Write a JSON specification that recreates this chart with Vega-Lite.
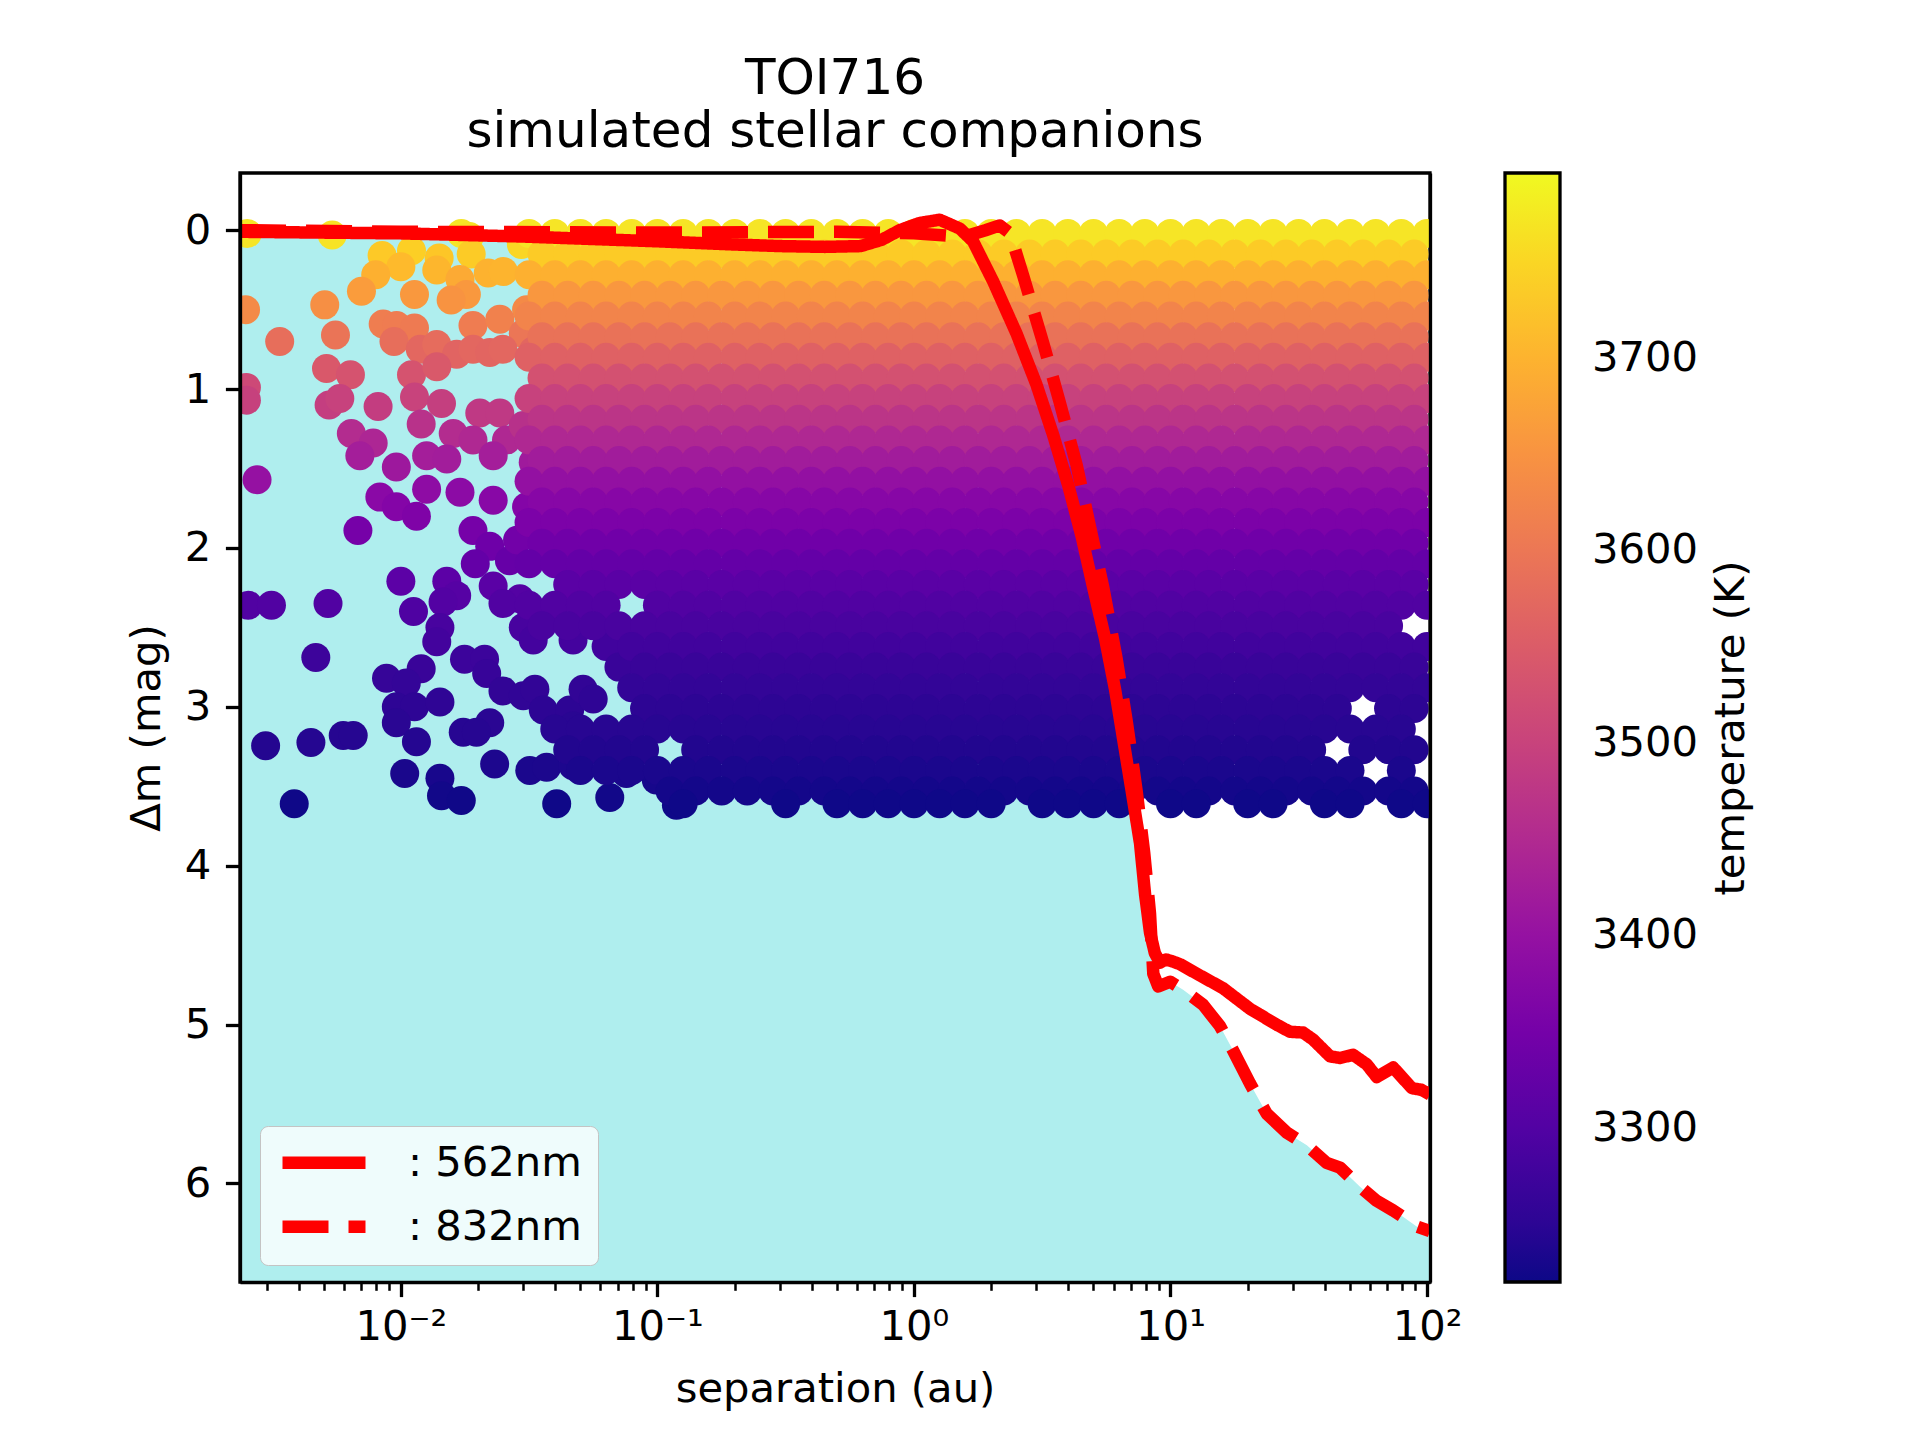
{
  "$schema": "https://vega.github.io/schema/vega-lite/v6.json",
  "width": 1190,
  "height": 1109,
  "autosize": {"type": "none"},
  "padding": {"left": 240, "top": 173, "right": 490, "bottom": 158},
  "background": "white",
  "title": {
    "text": ["TOI716", "simulated stellar companions"],
    "anchor": "middle",
    "frame": "group",
    "font": "DejaVu Sans",
    "fontSize": 50,
    "fontWeight": "normal",
    "color": "black",
    "lineHeight": 53,
    "offset": 16
  },
  "datasets": {
    "curves": [
      {"sep":0.00236,"dm":0.01,"band":": 562nm"},{"sep":0.01,"dm":0.02,"band":": 562nm"},{"sep":0.03,"dm":0.04,"band":": 562nm"},{"sep":0.1,"dm":0.07,"band":": 562nm"},{"sep":0.2,"dm":0.09,"band":": 562nm"},{"sep":0.3,"dm":0.1,"band":": 562nm"},{"sep":0.45,"dm":0.105,"band":": 562nm"},{"sep":0.62,"dm":0.1,"band":": 562nm"},{"sep":0.75,"dm":0.06,"band":": 562nm"},{"sep":0.88,"dm":0.0,"band":": 562nm"},{"sep":1.05,"dm":-0.045,"band":": 562nm"},{"sep":1.26,"dm":-0.066,"band":": 562nm"},{"sep":1.51,"dm":-0.01,"band":": 562nm"},{"sep":1.7,"dm":0.07,"band":": 562nm"},{"sep":2.04,"dm":0.325,"band":": 562nm"},{"sep":2.51,"dm":0.65,"band":": 562nm"},{"sep":3.0,"dm":0.97,"band":": 562nm"},{"sep":3.49,"dm":1.29,"band":": 562nm"},{"sep":4.0,"dm":1.61,"band":": 562nm"},{"sep":4.51,"dm":1.93,"band":": 562nm"},{"sep":5.0,"dm":2.25,"band":": 562nm"},{"sep":5.56,"dm":2.57,"band":": 562nm"},{"sep":6.08,"dm":2.89,"band":": 562nm"},{"sep":6.55,"dm":3.21,"band":": 562nm"},{"sep":7.06,"dm":3.53,"band":": 562nm"},{"sep":7.61,"dm":3.86,"band":": 562nm"},{"sep":7.96,"dm":4.18,"band":": 562nm"},{"sep":8.32,"dm":4.42,"band":": 562nm"},{"sep":8.69,"dm":4.55,"band":": 562nm"},{"sep":9.1,"dm":4.61,"band":": 562nm"},{"sep":9.6,"dm":4.59,"band":": 562nm"},{"sep":10.1,"dm":4.6,"band":": 562nm"},{"sep":10.9,"dm":4.62,"band":": 562nm"},{"sep":13.0,"dm":4.69,"band":": 562nm"},{"sep":16.0,"dm":4.77,"band":": 562nm"},{"sep":20.4,"dm":4.9,"band":": 562nm"},{"sep":25.9,"dm":5.0,"band":": 562nm"},{"sep":29.2,"dm":5.045,"band":": 562nm"},{"sep":32.9,"dm":5.05,"band":": 562nm"},{"sep":36.0,"dm":5.095,"band":": 562nm"},{"sep":41.9,"dm":5.2,"band":": 562nm"},{"sep":45.8,"dm":5.21,"band":": 562nm"},{"sep":51.5,"dm":5.19,"band":": 562nm"},{"sep":58.2,"dm":5.25,"band":": 562nm"},{"sep":63.7,"dm":5.33,"band":": 562nm"},{"sep":73.8,"dm":5.27,"band":": 562nm"},{"sep":87.3,"dm":5.4,"band":": 562nm"},{"sep":95,"dm":5.41,"band":": 562nm"},{"sep":102.7,"dm":5.44,"band":": 562nm"},
      {"sep":0.00236,"dm":0.0,"band":": 832nm"},{"sep":0.01,"dm":0.01,"band":": 832nm"},{"sep":0.1,"dm":0.015,"band":": 832nm"},{"sep":0.5,"dm":0.01,"band":": 832nm"},{"sep":1.0,"dm":0.02,"band":": 832nm"},{"sep":1.36,"dm":0.035,"band":": 832nm"},{"sep":1.65,"dm":0.03,"band":": 832nm"},{"sep":1.9,"dm":0.0,"band":": 832nm"},{"sep":2.16,"dm":-0.03,"band":": 832nm"},{"sep":2.37,"dm":0.02,"band":": 832nm"},{"sep":2.67,"dm":0.29,"band":": 832nm"},{"sep":3.19,"dm":0.71,"band":": 832nm"},{"sep":3.71,"dm":1.09,"band":": 832nm"},{"sep":4.31,"dm":1.48,"band":": 832nm"},{"sep":4.86,"dm":1.87,"band":": 832nm"},{"sep":5.47,"dm":2.25,"band":": 832nm"},{"sep":6.17,"dm":2.7,"band":": 832nm"},{"sep":6.75,"dm":3.09,"band":": 832nm"},{"sep":7.38,"dm":3.53,"band":": 832nm"},{"sep":7.9,"dm":3.92,"band":": 832nm"},{"sep":8.32,"dm":4.3,"band":": 832nm"},{"sep":8.57,"dm":4.68,"band":": 832nm"},{"sep":8.96,"dm":4.76,"band":": 832nm"},{"sep":9.96,"dm":4.73,"band":": 832nm"},{"sep":11.2,"dm":4.78,"band":": 832nm"},{"sep":13.4,"dm":4.875,"band":": 832nm"},{"sep":15.6,"dm":5.01,"band":": 832nm"},{"sep":17.5,"dm":5.16,"band":": 832nm"},{"sep":20.4,"dm":5.37,"band":": 832nm"},{"sep":23.7,"dm":5.56,"band":": 832nm"},{"sep":28.4,"dm":5.68,"band":": 832nm"},{"sep":34.0,"dm":5.76,"band":": 832nm"},{"sep":40.6,"dm":5.87,"band":": 832nm"},{"sep":45.8,"dm":5.9,"band":": 832nm"},{"sep":54.8,"dm":6.02,"band":": 832nm"},{"sep":63.7,"dm":6.11,"band":": 832nm"},{"sep":73.8,"dm":6.17,"band":": 832nm"},{"sep":80.6,"dm":6.21,"band":": 832nm"},{"sep":91.1,"dm":6.27,"band":": 832nm"},{"sep":102.7,"dm":6.3,"band":": 832nm"}
    ],
    "companions": [
      {"sep":0.00252,"dm":0.02,"T":3770},{"sep":0.0054,"dm":0.03,"T":3767},{"sep":0.0172,"dm":0.02,"T":3770},{"sep":0.0185,"dm":0.04,"T":3765},{"sep":0.0295,"dm":0.09,"T":3750},
      {"sep":0.00845,"dm":0.16,"T":3731},{"sep":0.011,"dm":0.13,"T":3740},{"sep":0.01,"dm":0.23,"T":3711},{"sep":0.00798,"dm":0.28,"T":3696},{"sep":0.00702,"dm":0.385,"T":3665},
      {"sep":0.0141,"dm":0.175,"T":3727},{"sep":0.0138,"dm":0.25,"T":3705},{"sep":0.0188,"dm":0.15,"T":3734},{"sep":0.0219,"dm":0.27,"T":3699},{"sep":0.0251,"dm":0.26,"T":3702},
      {"sep":0.017,"dm":0.31,"T":3687},{"sep":0.018,"dm":0.405,"T":3658},{"sep":0.0157,"dm":0.44,"T":3650},{"sep":0.0113,"dm":0.405,"T":3658},{"sep":0.00505,"dm":0.47,"T":3642},
      {"sep":0.00248,"dm":0.5,"T":3635},{"sep":0.00337,"dm":0.7,"T":3585},{"sep":0.00556,"dm":0.66,"T":3595},{"sep":0.00853,"dm":0.59,"T":3612},{"sep":0.00962,"dm":0.6,"T":3610},
      {"sep":0.0113,"dm":0.615,"T":3606},{"sep":0.0094,"dm":0.7,"T":3585},{"sep":0.0309,"dm":0.5,"T":3635},{"sep":0.0191,"dm":0.6,"T":3610},{"sep":0.0243,"dm":0.56,"T":3620},
      {"sep":0.03,"dm":0.65,"T":3598},{"sep":0.00513,"dm":0.87,"T":3543},{"sep":0.00636,"dm":0.91,"T":3532},{"sep":0.0119,"dm":0.75,"T":3572},{"sep":0.0138,"dm":0.72,"T":3580},
      {"sep":0.0165,"dm":0.78,"T":3565},{"sep":0.0191,"dm":0.75,"T":3572},{"sep":0.0222,"dm":0.77,"T":3568},{"sep":0.025,"dm":0.75,"T":3572},{"sep":0.0328,"dm":0.76,"T":3570},
      {"sep":0.011,"dm":0.91,"T":3532},{"sep":0.0138,"dm":0.86,"T":3545},{"sep":0.0025,"dm":0.99,"T":3512},{"sep":0.0025,"dm":1.07,"T":3496},{"sep":0.00525,"dm":1.1,"T":3490},
      {"sep":0.00578,"dm":1.06,"T":3498},{"sep":0.00815,"dm":1.11,"T":3488},{"sep":0.0113,"dm":1.05,"T":3500},{"sep":0.0144,"dm":1.09,"T":3492},{"sep":0.012,"dm":1.22,"T":3466},
      {"sep":0.00641,"dm":1.28,"T":3454},{"sep":0.0078,"dm":1.34,"T":3442},{"sep":0.00692,"dm":1.42,"T":3426},{"sep":0.0096,"dm":1.49,"T":3414},{"sep":0.016,"dm":1.28,"T":3454},
      {"sep":0.0126,"dm":1.42,"T":3426},{"sep":0.0151,"dm":1.44,"T":3423},{"sep":0.0203,"dm":1.15,"T":3480},{"sep":0.0243,"dm":1.15,"T":3480},{"sep":0.0191,"dm":1.32,"T":3446},
      {"sep":0.0258,"dm":1.32,"T":3446},{"sep":0.0229,"dm":1.42,"T":3426},{"sep":0.03,"dm":1.23,"T":3464},{"sep":0.0328,"dm":1.46,"T":3418},{"sep":0.00275,"dm":1.57,"T":3400},
      {"sep":0.00828,"dm":1.68,"T":3383},{"sep":0.0096,"dm":1.74,"T":3374},{"sep":0.0115,"dm":1.8,"T":3365},{"sep":0.0068,"dm":1.89,"T":3352},{"sep":0.0126,"dm":1.63,"T":3390},
      {"sep":0.017,"dm":1.65,"T":3387},{"sep":0.0191,"dm":1.89,"T":3352},{"sep":0.0222,"dm":1.99,"T":3341},{"sep":0.0309,"dm":1.74,"T":3374},{"sep":0.0229,"dm":1.7,"T":3380},
      {"sep":0.0265,"dm":2.08,"T":3330},{"sep":0.0195,"dm":2.1,"T":3327},{"sep":0.0285,"dm":1.95,"T":3346},
      {"sep":0.01,"dm":2.21,"T":3314},{"sep":0.0151,"dm":2.21,"T":3314},{"sep":0.0229,"dm":2.24,"T":3311},{"sep":0.00254,"dm":2.36,"T":3298},{"sep":0.00313,"dm":2.36,"T":3298},
      {"sep":0.0052,"dm":2.35,"T":3299},{"sep":0.0112,"dm":2.4,"T":3295},{"sep":0.0165,"dm":2.3,"T":3305},{"sep":0.0291,"dm":2.32,"T":3302},{"sep":0.0146,"dm":2.34,"T":3301},
      {"sep":0.0142,"dm":2.5,"T":3286},{"sep":0.0138,"dm":2.59,"T":3279},{"sep":0.00466,"dm":2.69,"T":3271},{"sep":0.00879,"dm":2.82,"T":3262},{"sep":0.012,"dm":2.76,"T":3266},
      {"sep":0.0105,"dm":2.85,"T":3260},{"sep":0.0096,"dm":3.0,"T":3252},{"sep":0.0113,"dm":3.0,"T":3252},{"sep":0.0096,"dm":3.1,"T":3247},{"sep":0.0142,"dm":2.97,"T":3253},
      {"sep":0.0115,"dm":3.22,"T":3241},{"sep":0.0177,"dm":2.7,"T":3270},{"sep":0.0212,"dm":2.7,"T":3270},{"sep":0.0216,"dm":2.79,"T":3264},{"sep":0.025,"dm":2.9,"T":3257},
      {"sep":0.03,"dm":2.93,"T":3256},{"sep":0.0333,"dm":2.89,"T":3257},{"sep":0.0359,"dm":3.02,"T":3251},{"sep":0.0455,"dm":3.02,"T":3251},{"sep":0.0513,"dm":2.89,"T":3257},
      {"sep":0.0562,"dm":2.95,"T":3254},{"sep":0.0469,"dm":3.12,"T":3246},{"sep":0.0222,"dm":3.1,"T":3247},{"sep":0.0175,"dm":3.16,"T":3244},{"sep":0.0197,"dm":3.16,"T":3244},
      {"sep":0.00297,"dm":3.245,"T":3240},{"sep":0.00446,"dm":3.225,"T":3241},{"sep":0.00596,"dm":3.18,"T":3243},{"sep":0.00652,"dm":3.18,"T":3243},{"sep":0.00384,"dm":3.61,"T":3222},
      {"sep":0.01035,"dm":3.42,"T":3231},{"sep":0.0142,"dm":3.45,"T":3230},{"sep":0.0144,"dm":3.56,"T":3224},{"sep":0.0172,"dm":3.59,"T":3223},{"sep":0.0232,"dm":3.36,"T":3234},
      {"sep":0.0318,"dm":3.4,"T":3232},{"sep":0.037,"dm":3.38,"T":3233},{"sep":0.0405,"dm":3.61,"T":3222},{"sep":0.0652,"dm":3.57,"T":3224},{"sep":0.0469,"dm":3.37,"T":3234},
      {"sep":0.0757,"dm":3.42,"T":3231},{"sep":0.099,"dm":3.46,"T":3229},{"sep":0.1186,"dm":3.62,"T":3222},{"sep":0.025,"dm":2.35,"T":3299},{"sep":0.03,"dm":2.5,"T":3286},
      {"sep":0.0328,"dm":2.58,"T":3280},{"sep":0.0469,"dm":2.58,"T":3280},{"sep":0.0631,"dm":2.62,"T":3276},{"sep":0.0708,"dm":2.75,"T":3266},

      {"sep":0.0316,"dm":0.02,"T":3770},{"sep":0.0398,"dm":0.02,"T":3770},{"sep":0.0501,"dm":0.02,"T":3770},{"sep":0.0631,"dm":0.02,"T":3770},{"sep":0.0794,"dm":0.02,"T":3770},{"sep":0.1,"dm":0.02,"T":3770},{"sep":0.126,"dm":0.02,"T":3770},{"sep":0.158,"dm":0.02,"T":3770},{"sep":0.2,"dm":0.02,"T":3770},{"sep":0.251,"dm":0.02,"T":3770},{"sep":0.316,"dm":0.02,"T":3770},{"sep":0.398,"dm":0.02,"T":3770},{"sep":0.501,"dm":0.02,"T":3770},{"sep":0.631,"dm":0.02,"T":3770},{"sep":0.794,"dm":0.02,"T":3770},{"sep":1,"dm":0.02,"T":3770},{"sep":1.26,"dm":0.02,"T":3770},{"sep":1.58,"dm":0.02,"T":3770},{"sep":2,"dm":0.02,"T":3770},{"sep":2.51,"dm":0.02,"T":3770},{"sep":3.16,"dm":0.02,"T":3770},{"sep":3.98,"dm":0.02,"T":3770},{"sep":5.01,"dm":0.02,"T":3770},{"sep":6.31,"dm":0.02,"T":3770},{"sep":7.94,"dm":0.02,"T":3770},{"sep":10,"dm":0.02,"T":3770},{"sep":12.6,"dm":0.02,"T":3770},{"sep":15.8,"dm":0.02,"T":3770},{"sep":20,"dm":0.02,"T":3770},{"sep":25.1,"dm":0.02,"T":3770},{"sep":31.6,"dm":0.02,"T":3770},{"sep":39.8,"dm":0.02,"T":3770},{"sep":50.1,"dm":0.02,"T":3770},{"sep":63.1,"dm":0.02,"T":3770},{"sep":79.4,"dm":0.02,"T":3770},{"sep":100,"dm":0.02,"T":3770},

      {"sep":0.0355,"dm":0.15,"T":3734},{"sep":0.0447,"dm":0.15,"T":3734},{"sep":0.0562,"dm":0.15,"T":3734},{"sep":0.0708,"dm":0.15,"T":3734},{"sep":0.0891,"dm":0.15,"T":3734},{"sep":0.112,"dm":0.15,"T":3734},{"sep":0.141,"dm":0.15,"T":3734},{"sep":0.178,"dm":0.15,"T":3734},{"sep":0.224,"dm":0.15,"T":3734},{"sep":0.282,"dm":0.15,"T":3734},{"sep":0.355,"dm":0.15,"T":3734},{"sep":0.447,"dm":0.15,"T":3734},{"sep":0.562,"dm":0.15,"T":3734},{"sep":0.708,"dm":0.15,"T":3734},{"sep":0.891,"dm":0.15,"T":3734},{"sep":1.12,"dm":0.15,"T":3734},{"sep":1.41,"dm":0.15,"T":3734},{"sep":1.78,"dm":0.15,"T":3734},{"sep":2.24,"dm":0.15,"T":3734},{"sep":2.82,"dm":0.15,"T":3734},{"sep":3.55,"dm":0.15,"T":3734},{"sep":4.47,"dm":0.15,"T":3734},{"sep":5.62,"dm":0.15,"T":3734},{"sep":7.08,"dm":0.15,"T":3734},{"sep":8.91,"dm":0.15,"T":3734},{"sep":11.2,"dm":0.15,"T":3734},{"sep":14.1,"dm":0.15,"T":3734},{"sep":17.8,"dm":0.15,"T":3734},{"sep":22.4,"dm":0.15,"T":3734},{"sep":28.2,"dm":0.15,"T":3734},{"sep":35.5,"dm":0.15,"T":3734},{"sep":44.7,"dm":0.15,"T":3734},{"sep":56.2,"dm":0.15,"T":3734},{"sep":70.8,"dm":0.15,"T":3734},{"sep":89.1,"dm":0.15,"T":3734},

      {"sep":0.0316,"dm":0.28,"T":3696},{"sep":0.0398,"dm":0.28,"T":3696},{"sep":0.0501,"dm":0.28,"T":3696},{"sep":0.0631,"dm":0.28,"T":3696},{"sep":0.0794,"dm":0.28,"T":3696},{"sep":0.1,"dm":0.28,"T":3696},{"sep":0.126,"dm":0.28,"T":3696},{"sep":0.158,"dm":0.28,"T":3696},{"sep":0.2,"dm":0.28,"T":3696},{"sep":0.251,"dm":0.28,"T":3696},{"sep":0.316,"dm":0.28,"T":3696},{"sep":0.398,"dm":0.28,"T":3696},{"sep":0.501,"dm":0.28,"T":3696},{"sep":0.631,"dm":0.28,"T":3696},{"sep":0.794,"dm":0.28,"T":3696},{"sep":1,"dm":0.28,"T":3696},{"sep":1.26,"dm":0.28,"T":3696},{"sep":1.58,"dm":0.28,"T":3696},{"sep":2,"dm":0.28,"T":3696},{"sep":2.51,"dm":0.28,"T":3696},{"sep":3.16,"dm":0.28,"T":3696},{"sep":3.98,"dm":0.28,"T":3696},{"sep":5.01,"dm":0.28,"T":3696},{"sep":6.31,"dm":0.28,"T":3696},{"sep":7.94,"dm":0.28,"T":3696},{"sep":10,"dm":0.28,"T":3696},{"sep":12.6,"dm":0.28,"T":3696},{"sep":15.8,"dm":0.28,"T":3696},{"sep":20,"dm":0.28,"T":3696},{"sep":25.1,"dm":0.28,"T":3696},{"sep":31.6,"dm":0.28,"T":3696},{"sep":39.8,"dm":0.28,"T":3696},{"sep":50.1,"dm":0.28,"T":3696},{"sep":63.1,"dm":0.28,"T":3696},{"sep":79.4,"dm":0.28,"T":3696},{"sep":100,"dm":0.28,"T":3696},

      {"sep":0.0355,"dm":0.41,"T":3657},{"sep":0.0447,"dm":0.41,"T":3657},{"sep":0.0562,"dm":0.41,"T":3657},{"sep":0.0708,"dm":0.41,"T":3657},{"sep":0.0891,"dm":0.41,"T":3657},{"sep":0.112,"dm":0.41,"T":3657},{"sep":0.141,"dm":0.41,"T":3657},{"sep":0.178,"dm":0.41,"T":3657},{"sep":0.224,"dm":0.41,"T":3657},{"sep":0.282,"dm":0.41,"T":3657},{"sep":0.355,"dm":0.41,"T":3657},{"sep":0.447,"dm":0.41,"T":3657},{"sep":0.562,"dm":0.41,"T":3657},{"sep":0.708,"dm":0.41,"T":3657},{"sep":0.891,"dm":0.41,"T":3657},{"sep":1.12,"dm":0.41,"T":3657},{"sep":1.41,"dm":0.41,"T":3657},{"sep":1.78,"dm":0.41,"T":3657},{"sep":2.24,"dm":0.41,"T":3657},{"sep":2.82,"dm":0.41,"T":3657},{"sep":3.55,"dm":0.41,"T":3657},{"sep":4.47,"dm":0.41,"T":3657},{"sep":5.62,"dm":0.41,"T":3657},{"sep":7.08,"dm":0.41,"T":3657},{"sep":8.91,"dm":0.41,"T":3657},{"sep":11.2,"dm":0.41,"T":3657},{"sep":14.1,"dm":0.41,"T":3657},{"sep":17.8,"dm":0.41,"T":3657},{"sep":22.4,"dm":0.41,"T":3657},{"sep":28.2,"dm":0.41,"T":3657},{"sep":35.5,"dm":0.41,"T":3657},{"sep":44.7,"dm":0.41,"T":3657},{"sep":56.2,"dm":0.41,"T":3657},{"sep":70.8,"dm":0.41,"T":3657},{"sep":89.1,"dm":0.41,"T":3657},

      {"sep":0.0316,"dm":0.54,"T":3625},{"sep":0.0398,"dm":0.54,"T":3625},{"sep":0.0501,"dm":0.54,"T":3625},{"sep":0.0631,"dm":0.54,"T":3625},{"sep":0.0794,"dm":0.54,"T":3625},{"sep":0.1,"dm":0.54,"T":3625},{"sep":0.126,"dm":0.54,"T":3625},{"sep":0.158,"dm":0.54,"T":3625},{"sep":0.2,"dm":0.54,"T":3625},{"sep":0.251,"dm":0.54,"T":3625},{"sep":0.316,"dm":0.54,"T":3625},{"sep":0.398,"dm":0.54,"T":3625},{"sep":0.501,"dm":0.54,"T":3625},{"sep":0.631,"dm":0.54,"T":3625},{"sep":0.794,"dm":0.54,"T":3625},{"sep":1,"dm":0.54,"T":3625},{"sep":1.26,"dm":0.54,"T":3625},{"sep":1.58,"dm":0.54,"T":3625},{"sep":2,"dm":0.54,"T":3625},{"sep":2.51,"dm":0.54,"T":3625},{"sep":3.16,"dm":0.54,"T":3625},{"sep":3.98,"dm":0.54,"T":3625},{"sep":5.01,"dm":0.54,"T":3625},{"sep":6.31,"dm":0.54,"T":3625},{"sep":7.94,"dm":0.54,"T":3625},{"sep":10,"dm":0.54,"T":3625},{"sep":12.6,"dm":0.54,"T":3625},{"sep":15.8,"dm":0.54,"T":3625},{"sep":20,"dm":0.54,"T":3625},{"sep":25.1,"dm":0.54,"T":3625},{"sep":31.6,"dm":0.54,"T":3625},{"sep":39.8,"dm":0.54,"T":3625},{"sep":50.1,"dm":0.54,"T":3625},{"sep":63.1,"dm":0.54,"T":3625},{"sep":79.4,"dm":0.54,"T":3625},{"sep":100,"dm":0.54,"T":3625},

      {"sep":0.0355,"dm":0.67,"T":3592},{"sep":0.0447,"dm":0.67,"T":3592},{"sep":0.0562,"dm":0.67,"T":3592},{"sep":0.0708,"dm":0.67,"T":3592},{"sep":0.0891,"dm":0.67,"T":3592},{"sep":0.112,"dm":0.67,"T":3592},{"sep":0.141,"dm":0.67,"T":3592},{"sep":0.178,"dm":0.67,"T":3592},{"sep":0.224,"dm":0.67,"T":3592},{"sep":0.282,"dm":0.67,"T":3592},{"sep":0.355,"dm":0.67,"T":3592},{"sep":0.447,"dm":0.67,"T":3592},{"sep":0.562,"dm":0.67,"T":3592},{"sep":0.708,"dm":0.67,"T":3592},{"sep":0.891,"dm":0.67,"T":3592},{"sep":1.12,"dm":0.67,"T":3592},{"sep":1.41,"dm":0.67,"T":3592},{"sep":1.78,"dm":0.67,"T":3592},{"sep":2.24,"dm":0.67,"T":3592},{"sep":2.82,"dm":0.67,"T":3592},{"sep":3.55,"dm":0.67,"T":3592},{"sep":4.47,"dm":0.67,"T":3592},{"sep":5.62,"dm":0.67,"T":3592},{"sep":7.08,"dm":0.67,"T":3592},{"sep":8.91,"dm":0.67,"T":3592},{"sep":11.2,"dm":0.67,"T":3592},{"sep":14.1,"dm":0.67,"T":3592},{"sep":17.8,"dm":0.67,"T":3592},{"sep":22.4,"dm":0.67,"T":3592},{"sep":28.2,"dm":0.67,"T":3592},{"sep":35.5,"dm":0.67,"T":3592},{"sep":44.7,"dm":0.67,"T":3592},{"sep":56.2,"dm":0.67,"T":3592},{"sep":70.8,"dm":0.67,"T":3592},{"sep":89.1,"dm":0.67,"T":3592},

      {"sep":0.0316,"dm":0.8,"T":3560},{"sep":0.0398,"dm":0.8,"T":3560},{"sep":0.0501,"dm":0.8,"T":3560},{"sep":0.0631,"dm":0.8,"T":3560},{"sep":0.0794,"dm":0.8,"T":3560},{"sep":0.1,"dm":0.8,"T":3560},{"sep":0.126,"dm":0.8,"T":3560},{"sep":0.158,"dm":0.8,"T":3560},{"sep":0.2,"dm":0.8,"T":3560},{"sep":0.251,"dm":0.8,"T":3560},{"sep":0.316,"dm":0.8,"T":3560},{"sep":0.398,"dm":0.8,"T":3560},{"sep":0.501,"dm":0.8,"T":3560},{"sep":0.631,"dm":0.8,"T":3560},{"sep":0.794,"dm":0.8,"T":3560},{"sep":1,"dm":0.8,"T":3560},{"sep":1.26,"dm":0.8,"T":3560},{"sep":1.58,"dm":0.8,"T":3560},{"sep":2,"dm":0.8,"T":3560},{"sep":2.51,"dm":0.8,"T":3560},{"sep":3.16,"dm":0.8,"T":3560},{"sep":3.98,"dm":0.8,"T":3560},{"sep":5.01,"dm":0.8,"T":3560},{"sep":6.31,"dm":0.8,"T":3560},{"sep":7.94,"dm":0.8,"T":3560},{"sep":10,"dm":0.8,"T":3560},{"sep":12.6,"dm":0.8,"T":3560},{"sep":15.8,"dm":0.8,"T":3560},{"sep":20,"dm":0.8,"T":3560},{"sep":25.1,"dm":0.8,"T":3560},{"sep":31.6,"dm":0.8,"T":3560},{"sep":39.8,"dm":0.8,"T":3560},{"sep":50.1,"dm":0.8,"T":3560},{"sep":63.1,"dm":0.8,"T":3560},{"sep":79.4,"dm":0.8,"T":3560},{"sep":100,"dm":0.8,"T":3560},

      {"sep":0.0355,"dm":0.93,"T":3528},{"sep":0.0447,"dm":0.93,"T":3528},{"sep":0.0562,"dm":0.93,"T":3528},{"sep":0.0708,"dm":0.93,"T":3528},{"sep":0.0891,"dm":0.93,"T":3528},{"sep":0.112,"dm":0.93,"T":3528},{"sep":0.141,"dm":0.93,"T":3528},{"sep":0.178,"dm":0.93,"T":3528},{"sep":0.224,"dm":0.93,"T":3528},{"sep":0.282,"dm":0.93,"T":3528},{"sep":0.355,"dm":0.93,"T":3528},{"sep":0.447,"dm":0.93,"T":3528},{"sep":0.562,"dm":0.93,"T":3528},{"sep":0.708,"dm":0.93,"T":3528},{"sep":0.891,"dm":0.93,"T":3528},{"sep":1.12,"dm":0.93,"T":3528},{"sep":1.41,"dm":0.93,"T":3528},{"sep":1.78,"dm":0.93,"T":3528},{"sep":2.24,"dm":0.93,"T":3528},{"sep":2.82,"dm":0.93,"T":3528},{"sep":3.55,"dm":0.93,"T":3528},{"sep":4.47,"dm":0.93,"T":3528},{"sep":5.62,"dm":0.93,"T":3528},{"sep":7.08,"dm":0.93,"T":3528},{"sep":8.91,"dm":0.93,"T":3528},{"sep":11.2,"dm":0.93,"T":3528},{"sep":14.1,"dm":0.93,"T":3528},{"sep":17.8,"dm":0.93,"T":3528},{"sep":22.4,"dm":0.93,"T":3528},{"sep":28.2,"dm":0.93,"T":3528},{"sep":35.5,"dm":0.93,"T":3528},{"sep":44.7,"dm":0.93,"T":3528},{"sep":56.2,"dm":0.93,"T":3528},{"sep":70.8,"dm":0.93,"T":3528},{"sep":89.1,"dm":0.93,"T":3528},

      {"sep":0.0316,"dm":1.06,"T":3498},{"sep":0.0398,"dm":1.06,"T":3498},{"sep":0.0501,"dm":1.06,"T":3498},{"sep":0.0631,"dm":1.06,"T":3498},{"sep":0.0794,"dm":1.06,"T":3498},{"sep":0.1,"dm":1.06,"T":3498},{"sep":0.126,"dm":1.06,"T":3498},{"sep":0.158,"dm":1.06,"T":3498},{"sep":0.2,"dm":1.06,"T":3498},{"sep":0.251,"dm":1.06,"T":3498},{"sep":0.316,"dm":1.06,"T":3498},{"sep":0.398,"dm":1.06,"T":3498},{"sep":0.501,"dm":1.06,"T":3498},{"sep":0.631,"dm":1.06,"T":3498},{"sep":0.794,"dm":1.06,"T":3498},{"sep":1,"dm":1.06,"T":3498},{"sep":1.26,"dm":1.06,"T":3498},{"sep":1.58,"dm":1.06,"T":3498},{"sep":2,"dm":1.06,"T":3498},{"sep":2.51,"dm":1.06,"T":3498},{"sep":3.16,"dm":1.06,"T":3498},{"sep":3.98,"dm":1.06,"T":3498},{"sep":5.01,"dm":1.06,"T":3498},{"sep":6.31,"dm":1.06,"T":3498},{"sep":7.94,"dm":1.06,"T":3498},{"sep":10,"dm":1.06,"T":3498},{"sep":12.6,"dm":1.06,"T":3498},{"sep":15.8,"dm":1.06,"T":3498},{"sep":20,"dm":1.06,"T":3498},{"sep":25.1,"dm":1.06,"T":3498},{"sep":31.6,"dm":1.06,"T":3498},{"sep":39.8,"dm":1.06,"T":3498},{"sep":50.1,"dm":1.06,"T":3498},{"sep":63.1,"dm":1.06,"T":3498},{"sep":79.4,"dm":1.06,"T":3498},{"sep":100,"dm":1.06,"T":3498},

      {"sep":0.0355,"dm":1.19,"T":3472},{"sep":0.0447,"dm":1.19,"T":3472},{"sep":0.0562,"dm":1.19,"T":3472},{"sep":0.0708,"dm":1.19,"T":3472},{"sep":0.0891,"dm":1.19,"T":3472},{"sep":0.112,"dm":1.19,"T":3472},{"sep":0.141,"dm":1.19,"T":3472},{"sep":0.178,"dm":1.19,"T":3472},{"sep":0.224,"dm":1.19,"T":3472},{"sep":0.282,"dm":1.19,"T":3472},{"sep":0.355,"dm":1.19,"T":3472},{"sep":0.447,"dm":1.19,"T":3472},{"sep":0.562,"dm":1.19,"T":3472},{"sep":0.708,"dm":1.19,"T":3472},{"sep":0.891,"dm":1.19,"T":3472},{"sep":1.12,"dm":1.19,"T":3472},{"sep":1.41,"dm":1.19,"T":3472},{"sep":1.78,"dm":1.19,"T":3472},{"sep":2.24,"dm":1.19,"T":3472},{"sep":2.82,"dm":1.19,"T":3472},{"sep":3.55,"dm":1.19,"T":3472},{"sep":4.47,"dm":1.19,"T":3472},{"sep":5.62,"dm":1.19,"T":3472},{"sep":7.08,"dm":1.19,"T":3472},{"sep":8.91,"dm":1.19,"T":3472},{"sep":11.2,"dm":1.19,"T":3472},{"sep":14.1,"dm":1.19,"T":3472},{"sep":17.8,"dm":1.19,"T":3472},{"sep":22.4,"dm":1.19,"T":3472},{"sep":28.2,"dm":1.19,"T":3472},{"sep":35.5,"dm":1.19,"T":3472},{"sep":44.7,"dm":1.19,"T":3472},{"sep":56.2,"dm":1.19,"T":3472},{"sep":70.8,"dm":1.19,"T":3472},{"sep":89.1,"dm":1.19,"T":3472},

      {"sep":0.0316,"dm":1.32,"T":3446},{"sep":0.0398,"dm":1.32,"T":3446},{"sep":0.0501,"dm":1.32,"T":3446},{"sep":0.0631,"dm":1.32,"T":3446},{"sep":0.0794,"dm":1.32,"T":3446},{"sep":0.1,"dm":1.32,"T":3446},{"sep":0.126,"dm":1.32,"T":3446},{"sep":0.158,"dm":1.32,"T":3446},{"sep":0.2,"dm":1.32,"T":3446},{"sep":0.251,"dm":1.32,"T":3446},{"sep":0.316,"dm":1.32,"T":3446},{"sep":0.398,"dm":1.32,"T":3446},{"sep":0.501,"dm":1.32,"T":3446},{"sep":0.631,"dm":1.32,"T":3446},{"sep":0.794,"dm":1.32,"T":3446},{"sep":1,"dm":1.32,"T":3446},{"sep":1.26,"dm":1.32,"T":3446},{"sep":1.58,"dm":1.32,"T":3446},{"sep":2,"dm":1.32,"T":3446},{"sep":2.51,"dm":1.32,"T":3446},{"sep":3.16,"dm":1.32,"T":3446},{"sep":3.98,"dm":1.32,"T":3446},{"sep":5.01,"dm":1.32,"T":3446},{"sep":6.31,"dm":1.32,"T":3446},{"sep":7.94,"dm":1.32,"T":3446},{"sep":10,"dm":1.32,"T":3446},{"sep":12.6,"dm":1.32,"T":3446},{"sep":15.8,"dm":1.32,"T":3446},{"sep":20,"dm":1.32,"T":3446},{"sep":25.1,"dm":1.32,"T":3446},{"sep":31.6,"dm":1.32,"T":3446},{"sep":39.8,"dm":1.32,"T":3446},{"sep":50.1,"dm":1.32,"T":3446},{"sep":63.1,"dm":1.32,"T":3446},{"sep":79.4,"dm":1.32,"T":3446},{"sep":100,"dm":1.32,"T":3446},

      {"sep":0.0355,"dm":1.45,"T":3421},{"sep":0.0447,"dm":1.45,"T":3421},{"sep":0.0562,"dm":1.45,"T":3421},{"sep":0.0708,"dm":1.45,"T":3421},{"sep":0.0891,"dm":1.45,"T":3421},{"sep":0.112,"dm":1.45,"T":3421},{"sep":0.141,"dm":1.45,"T":3421},{"sep":0.178,"dm":1.45,"T":3421},{"sep":0.224,"dm":1.45,"T":3421},{"sep":0.282,"dm":1.45,"T":3421},{"sep":0.355,"dm":1.45,"T":3421},{"sep":0.447,"dm":1.45,"T":3421},{"sep":0.562,"dm":1.45,"T":3421},{"sep":0.708,"dm":1.45,"T":3421},{"sep":0.891,"dm":1.45,"T":3421},{"sep":1.12,"dm":1.45,"T":3421},{"sep":1.41,"dm":1.45,"T":3421},{"sep":1.78,"dm":1.45,"T":3421},{"sep":2.24,"dm":1.45,"T":3421},{"sep":2.82,"dm":1.45,"T":3421},{"sep":3.55,"dm":1.45,"T":3421},{"sep":4.47,"dm":1.45,"T":3421},{"sep":5.62,"dm":1.45,"T":3421},{"sep":7.08,"dm":1.45,"T":3421},{"sep":8.91,"dm":1.45,"T":3421},{"sep":11.2,"dm":1.45,"T":3421},{"sep":14.1,"dm":1.45,"T":3421},{"sep":17.8,"dm":1.45,"T":3421},{"sep":22.4,"dm":1.45,"T":3421},{"sep":28.2,"dm":1.45,"T":3421},{"sep":35.5,"dm":1.45,"T":3421},{"sep":44.7,"dm":1.45,"T":3421},{"sep":56.2,"dm":1.45,"T":3421},{"sep":70.8,"dm":1.45,"T":3421},{"sep":89.1,"dm":1.45,"T":3421},

      {"sep":0.0316,"dm":1.58,"T":3398},{"sep":0.0398,"dm":1.58,"T":3398},{"sep":0.0501,"dm":1.58,"T":3398},{"sep":0.0631,"dm":1.58,"T":3398},{"sep":0.0794,"dm":1.58,"T":3398},{"sep":0.1,"dm":1.58,"T":3398},{"sep":0.126,"dm":1.58,"T":3398},{"sep":0.158,"dm":1.58,"T":3398},{"sep":0.2,"dm":1.58,"T":3398},{"sep":0.251,"dm":1.58,"T":3398},{"sep":0.316,"dm":1.58,"T":3398},{"sep":0.398,"dm":1.58,"T":3398},{"sep":0.501,"dm":1.58,"T":3398},{"sep":0.631,"dm":1.58,"T":3398},{"sep":0.794,"dm":1.58,"T":3398},{"sep":1,"dm":1.58,"T":3398},{"sep":1.26,"dm":1.58,"T":3398},{"sep":1.58,"dm":1.58,"T":3398},{"sep":2,"dm":1.58,"T":3398},{"sep":2.51,"dm":1.58,"T":3398},{"sep":3.16,"dm":1.58,"T":3398},{"sep":3.98,"dm":1.58,"T":3398},{"sep":5.01,"dm":1.58,"T":3398},{"sep":6.31,"dm":1.58,"T":3398},{"sep":7.94,"dm":1.58,"T":3398},{"sep":10,"dm":1.58,"T":3398},{"sep":12.6,"dm":1.58,"T":3398},{"sep":15.8,"dm":1.58,"T":3398},{"sep":20,"dm":1.58,"T":3398},{"sep":25.1,"dm":1.58,"T":3398},{"sep":31.6,"dm":1.58,"T":3398},{"sep":39.8,"dm":1.58,"T":3398},{"sep":50.1,"dm":1.58,"T":3398},{"sep":63.1,"dm":1.58,"T":3398},{"sep":79.4,"dm":1.58,"T":3398},{"sep":100,"dm":1.58,"T":3398},

      {"sep":0.0355,"dm":1.71,"T":3378},{"sep":0.0447,"dm":1.71,"T":3378},{"sep":0.0562,"dm":1.71,"T":3378},{"sep":0.0708,"dm":1.71,"T":3378},{"sep":0.0891,"dm":1.71,"T":3378},{"sep":0.112,"dm":1.71,"T":3378},{"sep":0.141,"dm":1.71,"T":3378},{"sep":0.178,"dm":1.71,"T":3378},{"sep":0.224,"dm":1.71,"T":3378},{"sep":0.282,"dm":1.71,"T":3378},{"sep":0.355,"dm":1.71,"T":3378},{"sep":0.447,"dm":1.71,"T":3378},{"sep":0.562,"dm":1.71,"T":3378},{"sep":0.708,"dm":1.71,"T":3378},{"sep":0.891,"dm":1.71,"T":3378},{"sep":1.12,"dm":1.71,"T":3378},{"sep":1.41,"dm":1.71,"T":3378},{"sep":1.78,"dm":1.71,"T":3378},{"sep":2.24,"dm":1.71,"T":3378},{"sep":2.82,"dm":1.71,"T":3378},{"sep":3.55,"dm":1.71,"T":3378},{"sep":4.47,"dm":1.71,"T":3378},{"sep":5.62,"dm":1.71,"T":3378},{"sep":7.08,"dm":1.71,"T":3378},{"sep":8.91,"dm":1.71,"T":3378},{"sep":11.2,"dm":1.71,"T":3378},{"sep":14.1,"dm":1.71,"T":3378},{"sep":17.8,"dm":1.71,"T":3378},{"sep":22.4,"dm":1.71,"T":3378},{"sep":28.2,"dm":1.71,"T":3378},{"sep":35.5,"dm":1.71,"T":3378},{"sep":44.7,"dm":1.71,"T":3378},{"sep":56.2,"dm":1.71,"T":3378},{"sep":70.8,"dm":1.71,"T":3378},{"sep":89.1,"dm":1.71,"T":3378},

      {"sep":0.0316,"dm":1.84,"T":3360},{"sep":0.0398,"dm":1.84,"T":3360},{"sep":0.0501,"dm":1.84,"T":3360},{"sep":0.0631,"dm":1.84,"T":3360},{"sep":0.0794,"dm":1.84,"T":3360},{"sep":0.1,"dm":1.84,"T":3360},{"sep":0.126,"dm":1.84,"T":3360},{"sep":0.158,"dm":1.84,"T":3360},{"sep":0.2,"dm":1.84,"T":3360},{"sep":0.251,"dm":1.84,"T":3360},{"sep":0.316,"dm":1.84,"T":3360},{"sep":0.398,"dm":1.84,"T":3360},{"sep":0.501,"dm":1.84,"T":3360},{"sep":0.631,"dm":1.84,"T":3360},{"sep":0.794,"dm":1.84,"T":3360},{"sep":1,"dm":1.84,"T":3360},{"sep":1.26,"dm":1.84,"T":3360},{"sep":1.58,"dm":1.84,"T":3360},{"sep":2,"dm":1.84,"T":3360},{"sep":2.51,"dm":1.84,"T":3360},{"sep":3.16,"dm":1.84,"T":3360},{"sep":3.98,"dm":1.84,"T":3360},{"sep":5.01,"dm":1.84,"T":3360},{"sep":6.31,"dm":1.84,"T":3360},{"sep":7.94,"dm":1.84,"T":3360},{"sep":10,"dm":1.84,"T":3360},{"sep":12.6,"dm":1.84,"T":3360},{"sep":15.8,"dm":1.84,"T":3360},{"sep":20,"dm":1.84,"T":3360},{"sep":25.1,"dm":1.84,"T":3360},{"sep":31.6,"dm":1.84,"T":3360},{"sep":39.8,"dm":1.84,"T":3360},{"sep":50.1,"dm":1.84,"T":3360},{"sep":63.1,"dm":1.84,"T":3360},{"sep":79.4,"dm":1.84,"T":3360},{"sep":100,"dm":1.84,"T":3360},

      {"sep":0.0355,"dm":1.97,"T":3344},{"sep":0.0447,"dm":1.97,"T":3344},{"sep":0.0562,"dm":1.97,"T":3344},{"sep":0.0708,"dm":1.97,"T":3344},{"sep":0.0891,"dm":1.97,"T":3344},{"sep":0.112,"dm":1.97,"T":3344},{"sep":0.141,"dm":1.97,"T":3344},{"sep":0.178,"dm":1.97,"T":3344},{"sep":0.224,"dm":1.97,"T":3344},{"sep":0.282,"dm":1.97,"T":3344},{"sep":0.355,"dm":1.97,"T":3344},{"sep":0.447,"dm":1.97,"T":3344},{"sep":0.562,"dm":1.97,"T":3344},{"sep":0.708,"dm":1.97,"T":3344},{"sep":0.891,"dm":1.97,"T":3344},{"sep":1.12,"dm":1.97,"T":3344},{"sep":1.41,"dm":1.97,"T":3344},{"sep":1.78,"dm":1.97,"T":3344},{"sep":2.24,"dm":1.97,"T":3344},{"sep":2.82,"dm":1.97,"T":3344},{"sep":3.55,"dm":1.97,"T":3344},{"sep":4.47,"dm":1.97,"T":3344},{"sep":5.62,"dm":1.97,"T":3344},{"sep":7.08,"dm":1.97,"T":3344},{"sep":8.91,"dm":1.97,"T":3344},{"sep":11.2,"dm":1.97,"T":3344},{"sep":14.1,"dm":1.97,"T":3344},{"sep":17.8,"dm":1.97,"T":3344},{"sep":22.4,"dm":1.97,"T":3344},{"sep":28.2,"dm":1.97,"T":3344},{"sep":35.5,"dm":1.97,"T":3344},{"sep":44.7,"dm":1.97,"T":3344},{"sep":56.2,"dm":1.97,"T":3344},{"sep":70.8,"dm":1.97,"T":3344},{"sep":89.1,"dm":1.97,"T":3344},

      {"sep":0.0316,"dm":2.1,"T":3327},{"sep":0.0398,"dm":2.1,"T":3327},{"sep":0.0501,"dm":2.1,"T":3327},{"sep":0.0631,"dm":2.1,"T":3327},{"sep":0.0794,"dm":2.1,"T":3327},{"sep":0.1,"dm":2.1,"T":3327},{"sep":0.126,"dm":2.1,"T":3327},{"sep":0.158,"dm":2.1,"T":3327},{"sep":0.2,"dm":2.1,"T":3327},{"sep":0.251,"dm":2.1,"T":3327},{"sep":0.316,"dm":2.1,"T":3327},{"sep":0.398,"dm":2.1,"T":3327},{"sep":0.501,"dm":2.1,"T":3327},{"sep":0.631,"dm":2.1,"T":3327},{"sep":0.794,"dm":2.1,"T":3327},{"sep":1,"dm":2.1,"T":3327},{"sep":1.26,"dm":2.1,"T":3327},{"sep":1.58,"dm":2.1,"T":3327},{"sep":2,"dm":2.1,"T":3327},{"sep":2.51,"dm":2.1,"T":3327},{"sep":3.16,"dm":2.1,"T":3327},{"sep":3.98,"dm":2.1,"T":3327},{"sep":5.01,"dm":2.1,"T":3327},{"sep":6.31,"dm":2.1,"T":3327},{"sep":7.94,"dm":2.1,"T":3327},{"sep":10,"dm":2.1,"T":3327},{"sep":12.6,"dm":2.1,"T":3327},{"sep":15.8,"dm":2.1,"T":3327},{"sep":20,"dm":2.1,"T":3327},{"sep":25.1,"dm":2.1,"T":3327},{"sep":31.6,"dm":2.1,"T":3327},{"sep":39.8,"dm":2.1,"T":3327},{"sep":50.1,"dm":2.1,"T":3327},{"sep":63.1,"dm":2.1,"T":3327},{"sep":79.4,"dm":2.1,"T":3327},{"sep":100,"dm":2.1,"T":3327},

      {"sep":0.0447,"dm":2.23,"T":3312},{"sep":0.0562,"dm":2.23,"T":3312},{"sep":0.0708,"dm":2.23,"T":3312},{"sep":0.0891,"dm":2.23,"T":3312},{"sep":0.112,"dm":2.23,"T":3312},{"sep":0.141,"dm":2.23,"T":3312},{"sep":0.178,"dm":2.23,"T":3312},{"sep":0.224,"dm":2.23,"T":3312},{"sep":0.282,"dm":2.23,"T":3312},{"sep":0.355,"dm":2.23,"T":3312},{"sep":0.447,"dm":2.23,"T":3312},{"sep":0.562,"dm":2.23,"T":3312},{"sep":0.708,"dm":2.23,"T":3312},{"sep":0.891,"dm":2.23,"T":3312},{"sep":1.12,"dm":2.23,"T":3312},{"sep":1.41,"dm":2.23,"T":3312},{"sep":1.78,"dm":2.23,"T":3312},{"sep":2.24,"dm":2.23,"T":3312},{"sep":2.82,"dm":2.23,"T":3312},{"sep":3.55,"dm":2.23,"T":3312},{"sep":4.47,"dm":2.23,"T":3312},{"sep":5.62,"dm":2.23,"T":3312},{"sep":7.08,"dm":2.23,"T":3312},{"sep":8.91,"dm":2.23,"T":3312},{"sep":11.2,"dm":2.23,"T":3312},{"sep":14.1,"dm":2.23,"T":3312},{"sep":17.8,"dm":2.23,"T":3312},{"sep":22.4,"dm":2.23,"T":3312},{"sep":28.2,"dm":2.23,"T":3312},{"sep":35.5,"dm":2.23,"T":3312},{"sep":44.7,"dm":2.23,"T":3312},{"sep":56.2,"dm":2.23,"T":3312},{"sep":70.8,"dm":2.23,"T":3312},{"sep":89.1,"dm":2.23,"T":3312},

      {"sep":0.0316,"dm":2.36,"T":3299},{"sep":0.0398,"dm":2.36,"T":3299},{"sep":0.0501,"dm":2.36,"T":3299},{"sep":0.0631,"dm":2.36,"T":3299},{"sep":0.1,"dm":2.36,"T":3299},{"sep":0.126,"dm":2.36,"T":3299},{"sep":0.158,"dm":2.36,"T":3299},{"sep":0.2,"dm":2.36,"T":3299},{"sep":0.251,"dm":2.36,"T":3299},{"sep":0.316,"dm":2.36,"T":3299},{"sep":0.398,"dm":2.36,"T":3299},{"sep":0.501,"dm":2.36,"T":3299},{"sep":0.631,"dm":2.36,"T":3299},{"sep":0.794,"dm":2.36,"T":3299},{"sep":1,"dm":2.36,"T":3299},{"sep":1.26,"dm":2.36,"T":3299},{"sep":1.58,"dm":2.36,"T":3299},{"sep":2,"dm":2.36,"T":3299},{"sep":2.51,"dm":2.36,"T":3299},{"sep":3.16,"dm":2.36,"T":3299},{"sep":3.98,"dm":2.36,"T":3299},{"sep":5.01,"dm":2.36,"T":3299},{"sep":6.31,"dm":2.36,"T":3299},{"sep":7.94,"dm":2.36,"T":3299},{"sep":10,"dm":2.36,"T":3299},{"sep":12.6,"dm":2.36,"T":3299},{"sep":15.8,"dm":2.36,"T":3299},{"sep":20,"dm":2.36,"T":3299},{"sep":25.1,"dm":2.36,"T":3299},{"sep":31.6,"dm":2.36,"T":3299},{"sep":39.8,"dm":2.36,"T":3299},{"sep":50.1,"dm":2.36,"T":3299},{"sep":63.1,"dm":2.36,"T":3299},{"sep":79.4,"dm":2.36,"T":3299},{"sep":100,"dm":2.36,"T":3299},

      {"sep":0.0355,"dm":2.49,"T":3287},{"sep":0.0447,"dm":2.49,"T":3287},{"sep":0.0562,"dm":2.49,"T":3287},{"sep":0.0708,"dm":2.49,"T":3287},{"sep":0.0891,"dm":2.49,"T":3287},{"sep":0.112,"dm":2.49,"T":3287},{"sep":0.141,"dm":2.49,"T":3287},{"sep":0.178,"dm":2.49,"T":3287},{"sep":0.224,"dm":2.49,"T":3287},{"sep":0.282,"dm":2.49,"T":3287},{"sep":0.355,"dm":2.49,"T":3287},{"sep":0.447,"dm":2.49,"T":3287},{"sep":0.562,"dm":2.49,"T":3287},{"sep":0.708,"dm":2.49,"T":3287},{"sep":0.891,"dm":2.49,"T":3287},{"sep":1.12,"dm":2.49,"T":3287},{"sep":1.41,"dm":2.49,"T":3287},{"sep":1.78,"dm":2.49,"T":3287},{"sep":2.24,"dm":2.49,"T":3287},{"sep":2.82,"dm":2.49,"T":3287},{"sep":3.55,"dm":2.49,"T":3287},{"sep":4.47,"dm":2.49,"T":3287},{"sep":5.62,"dm":2.49,"T":3287},{"sep":7.08,"dm":2.49,"T":3287},{"sep":8.91,"dm":2.49,"T":3287},{"sep":11.2,"dm":2.49,"T":3287},{"sep":14.1,"dm":2.49,"T":3287},{"sep":17.8,"dm":2.49,"T":3287},{"sep":22.4,"dm":2.49,"T":3287},{"sep":28.2,"dm":2.49,"T":3287},{"sep":35.5,"dm":2.49,"T":3287},{"sep":44.7,"dm":2.49,"T":3287},{"sep":56.2,"dm":2.49,"T":3287},{"sep":70.8,"dm":2.49,"T":3287},

      {"sep":0.0794,"dm":2.62,"T":3276},{"sep":0.1,"dm":2.62,"T":3276},{"sep":0.126,"dm":2.62,"T":3276},{"sep":0.158,"dm":2.62,"T":3276},{"sep":0.2,"dm":2.62,"T":3276},{"sep":0.251,"dm":2.62,"T":3276},{"sep":0.316,"dm":2.62,"T":3276},{"sep":0.398,"dm":2.62,"T":3276},{"sep":0.501,"dm":2.62,"T":3276},{"sep":0.631,"dm":2.62,"T":3276},{"sep":0.794,"dm":2.62,"T":3276},{"sep":1,"dm":2.62,"T":3276},{"sep":1.26,"dm":2.62,"T":3276},{"sep":1.58,"dm":2.62,"T":3276},{"sep":2,"dm":2.62,"T":3276},{"sep":2.51,"dm":2.62,"T":3276},{"sep":3.16,"dm":2.62,"T":3276},{"sep":3.98,"dm":2.62,"T":3276},{"sep":5.01,"dm":2.62,"T":3276},{"sep":6.31,"dm":2.62,"T":3276},{"sep":7.94,"dm":2.62,"T":3276},{"sep":10,"dm":2.62,"T":3276},{"sep":12.6,"dm":2.62,"T":3276},{"sep":15.8,"dm":2.62,"T":3276},{"sep":20,"dm":2.62,"T":3276},{"sep":25.1,"dm":2.62,"T":3276},{"sep":31.6,"dm":2.62,"T":3276},{"sep":39.8,"dm":2.62,"T":3276},{"sep":50.1,"dm":2.62,"T":3276},{"sep":63.1,"dm":2.62,"T":3276},{"sep":79.4,"dm":2.62,"T":3276},{"sep":100,"dm":2.62,"T":3276},

      {"sep":0.0891,"dm":2.75,"T":3266},{"sep":0.112,"dm":2.75,"T":3266},{"sep":0.141,"dm":2.75,"T":3266},{"sep":0.178,"dm":2.75,"T":3266},{"sep":0.224,"dm":2.75,"T":3266},{"sep":0.282,"dm":2.75,"T":3266},{"sep":0.355,"dm":2.75,"T":3266},{"sep":0.447,"dm":2.75,"T":3266},{"sep":0.562,"dm":2.75,"T":3266},{"sep":0.708,"dm":2.75,"T":3266},{"sep":0.891,"dm":2.75,"T":3266},{"sep":1.12,"dm":2.75,"T":3266},{"sep":1.41,"dm":2.75,"T":3266},{"sep":1.78,"dm":2.75,"T":3266},{"sep":2.24,"dm":2.75,"T":3266},{"sep":2.82,"dm":2.75,"T":3266},{"sep":3.55,"dm":2.75,"T":3266},{"sep":4.47,"dm":2.75,"T":3266},{"sep":5.62,"dm":2.75,"T":3266},{"sep":7.08,"dm":2.75,"T":3266},{"sep":8.91,"dm":2.75,"T":3266},{"sep":11.2,"dm":2.75,"T":3266},{"sep":14.1,"dm":2.75,"T":3266},{"sep":17.8,"dm":2.75,"T":3266},{"sep":22.4,"dm":2.75,"T":3266},{"sep":28.2,"dm":2.75,"T":3266},{"sep":35.5,"dm":2.75,"T":3266},{"sep":44.7,"dm":2.75,"T":3266},{"sep":56.2,"dm":2.75,"T":3266},{"sep":70.8,"dm":2.75,"T":3266},{"sep":89.1,"dm":2.75,"T":3266},

      {"sep":0.0794,"dm":2.88,"T":3258},{"sep":0.1,"dm":2.88,"T":3258},{"sep":0.126,"dm":2.88,"T":3258},{"sep":0.158,"dm":2.88,"T":3258},{"sep":0.2,"dm":2.88,"T":3258},{"sep":0.251,"dm":2.88,"T":3258},{"sep":0.316,"dm":2.88,"T":3258},{"sep":0.398,"dm":2.88,"T":3258},{"sep":0.501,"dm":2.88,"T":3258},{"sep":0.631,"dm":2.88,"T":3258},{"sep":0.794,"dm":2.88,"T":3258},{"sep":1,"dm":2.88,"T":3258},{"sep":1.26,"dm":2.88,"T":3258},{"sep":1.58,"dm":2.88,"T":3258},{"sep":2,"dm":2.88,"T":3258},{"sep":2.51,"dm":2.88,"T":3258},{"sep":3.16,"dm":2.88,"T":3258},{"sep":3.98,"dm":2.88,"T":3258},{"sep":5.01,"dm":2.88,"T":3258},{"sep":6.31,"dm":2.88,"T":3258},{"sep":7.94,"dm":2.88,"T":3258},{"sep":10,"dm":2.88,"T":3258},{"sep":12.6,"dm":2.88,"T":3258},{"sep":15.8,"dm":2.88,"T":3258},{"sep":20,"dm":2.88,"T":3258},{"sep":25.1,"dm":2.88,"T":3258},{"sep":31.6,"dm":2.88,"T":3258},{"sep":39.8,"dm":2.88,"T":3258},{"sep":50.1,"dm":2.88,"T":3258},{"sep":63.1,"dm":2.88,"T":3258},{"sep":79.4,"dm":2.88,"T":3258},{"sep":100,"dm":2.88,"T":3258},

      {"sep":0.0891,"dm":3.01,"T":3251},{"sep":0.112,"dm":3.01,"T":3251},{"sep":0.141,"dm":3.01,"T":3251},{"sep":0.178,"dm":3.01,"T":3251},{"sep":0.224,"dm":3.01,"T":3251},{"sep":0.282,"dm":3.01,"T":3251},{"sep":0.355,"dm":3.01,"T":3251},{"sep":0.447,"dm":3.01,"T":3251},{"sep":0.562,"dm":3.01,"T":3251},{"sep":0.708,"dm":3.01,"T":3251},{"sep":0.891,"dm":3.01,"T":3251},{"sep":1.12,"dm":3.01,"T":3251},{"sep":1.41,"dm":3.01,"T":3251},{"sep":1.78,"dm":3.01,"T":3251},{"sep":2.24,"dm":3.01,"T":3251},{"sep":2.82,"dm":3.01,"T":3251},{"sep":3.55,"dm":3.01,"T":3251},{"sep":4.47,"dm":3.01,"T":3251},{"sep":5.62,"dm":3.01,"T":3251},{"sep":7.08,"dm":3.01,"T":3251},{"sep":8.91,"dm":3.01,"T":3251},{"sep":11.2,"dm":3.01,"T":3251},{"sep":14.1,"dm":3.01,"T":3251},{"sep":17.8,"dm":3.01,"T":3251},{"sep":22.4,"dm":3.01,"T":3251},{"sep":28.2,"dm":3.01,"T":3251},{"sep":35.5,"dm":3.01,"T":3251},{"sep":44.7,"dm":3.01,"T":3251},{"sep":70.8,"dm":3.01,"T":3251},{"sep":89.1,"dm":3.01,"T":3251},

      {"sep":0.0398,"dm":3.14,"T":3245},{"sep":0.0501,"dm":3.14,"T":3245},{"sep":0.0631,"dm":3.14,"T":3245},{"sep":0.0794,"dm":3.14,"T":3245},{"sep":0.1,"dm":3.14,"T":3245},{"sep":0.126,"dm":3.14,"T":3245},{"sep":0.158,"dm":3.14,"T":3245},{"sep":0.2,"dm":3.14,"T":3245},{"sep":0.251,"dm":3.14,"T":3245},{"sep":0.316,"dm":3.14,"T":3245},{"sep":0.398,"dm":3.14,"T":3245},{"sep":0.501,"dm":3.14,"T":3245},{"sep":0.631,"dm":3.14,"T":3245},{"sep":0.794,"dm":3.14,"T":3245},{"sep":1,"dm":3.14,"T":3245},{"sep":1.26,"dm":3.14,"T":3245},{"sep":1.58,"dm":3.14,"T":3245},{"sep":2,"dm":3.14,"T":3245},{"sep":2.51,"dm":3.14,"T":3245},{"sep":3.16,"dm":3.14,"T":3245},{"sep":3.98,"dm":3.14,"T":3245},{"sep":5.01,"dm":3.14,"T":3245},{"sep":6.31,"dm":3.14,"T":3245},{"sep":7.94,"dm":3.14,"T":3245},{"sep":10,"dm":3.14,"T":3245},{"sep":12.6,"dm":3.14,"T":3245},{"sep":15.8,"dm":3.14,"T":3245},{"sep":20,"dm":3.14,"T":3245},{"sep":25.1,"dm":3.14,"T":3245},{"sep":31.6,"dm":3.14,"T":3245},{"sep":39.8,"dm":3.14,"T":3245},{"sep":50.1,"dm":3.14,"T":3245},{"sep":63.1,"dm":3.14,"T":3245},{"sep":79.4,"dm":3.14,"T":3245},

      {"sep":0.0447,"dm":3.27,"T":3238},{"sep":0.0562,"dm":3.27,"T":3238},{"sep":0.0708,"dm":3.27,"T":3238},{"sep":0.0891,"dm":3.27,"T":3238},{"sep":0.141,"dm":3.27,"T":3238},{"sep":0.178,"dm":3.27,"T":3238},{"sep":0.224,"dm":3.27,"T":3238},{"sep":0.282,"dm":3.27,"T":3238},{"sep":0.355,"dm":3.27,"T":3238},{"sep":0.447,"dm":3.27,"T":3238},{"sep":0.562,"dm":3.27,"T":3238},{"sep":0.708,"dm":3.27,"T":3238},{"sep":0.891,"dm":3.27,"T":3238},{"sep":1.12,"dm":3.27,"T":3238},{"sep":1.41,"dm":3.27,"T":3238},{"sep":1.78,"dm":3.27,"T":3238},{"sep":2.24,"dm":3.27,"T":3238},{"sep":2.82,"dm":3.27,"T":3238},{"sep":3.55,"dm":3.27,"T":3238},{"sep":4.47,"dm":3.27,"T":3238},{"sep":5.62,"dm":3.27,"T":3238},{"sep":7.08,"dm":3.27,"T":3238},{"sep":8.91,"dm":3.27,"T":3238},{"sep":11.2,"dm":3.27,"T":3238},{"sep":14.1,"dm":3.27,"T":3238},{"sep":17.8,"dm":3.27,"T":3238},{"sep":22.4,"dm":3.27,"T":3238},{"sep":28.2,"dm":3.27,"T":3238},{"sep":35.5,"dm":3.27,"T":3238},{"sep":56.2,"dm":3.27,"T":3238},{"sep":70.8,"dm":3.27,"T":3238},{"sep":89.1,"dm":3.27,"T":3238},

      {"sep":0.0501,"dm":3.4,"T":3232},{"sep":0.0631,"dm":3.4,"T":3232},{"sep":0.0794,"dm":3.4,"T":3232},{"sep":0.1,"dm":3.4,"T":3232},{"sep":0.126,"dm":3.4,"T":3232},{"sep":0.158,"dm":3.4,"T":3232},{"sep":0.2,"dm":3.4,"T":3232},{"sep":0.251,"dm":3.4,"T":3232},{"sep":0.316,"dm":3.4,"T":3232},{"sep":0.398,"dm":3.4,"T":3232},{"sep":0.501,"dm":3.4,"T":3232},{"sep":0.631,"dm":3.4,"T":3232},{"sep":0.794,"dm":3.4,"T":3232},{"sep":1,"dm":3.4,"T":3232},{"sep":1.26,"dm":3.4,"T":3232},{"sep":1.58,"dm":3.4,"T":3232},{"sep":2,"dm":3.4,"T":3232},{"sep":2.51,"dm":3.4,"T":3232},{"sep":3.16,"dm":3.4,"T":3232},{"sep":3.98,"dm":3.4,"T":3232},{"sep":5.01,"dm":3.4,"T":3232},{"sep":6.31,"dm":3.4,"T":3232},{"sep":7.94,"dm":3.4,"T":3232},{"sep":10,"dm":3.4,"T":3232},{"sep":12.6,"dm":3.4,"T":3232},{"sep":15.8,"dm":3.4,"T":3232},{"sep":20,"dm":3.4,"T":3232},{"sep":25.1,"dm":3.4,"T":3232},{"sep":31.6,"dm":3.4,"T":3232},{"sep":39.8,"dm":3.4,"T":3232},{"sep":50.1,"dm":3.4,"T":3232},{"sep":79.4,"dm":3.4,"T":3232},

      {"sep":0.112,"dm":3.53,"T":3226},{"sep":0.141,"dm":3.53,"T":3226},{"sep":0.178,"dm":3.53,"T":3226},{"sep":0.224,"dm":3.53,"T":3226},{"sep":0.282,"dm":3.53,"T":3226},{"sep":0.355,"dm":3.53,"T":3226},{"sep":0.447,"dm":3.53,"T":3226},{"sep":0.562,"dm":3.53,"T":3226},{"sep":0.708,"dm":3.53,"T":3226},{"sep":0.891,"dm":3.53,"T":3226},{"sep":1.12,"dm":3.53,"T":3226},{"sep":1.41,"dm":3.53,"T":3226},{"sep":1.78,"dm":3.53,"T":3226},{"sep":2.24,"dm":3.53,"T":3226},{"sep":2.82,"dm":3.53,"T":3226},{"sep":3.55,"dm":3.53,"T":3226},{"sep":4.47,"dm":3.53,"T":3226},{"sep":5.62,"dm":3.53,"T":3226},{"sep":7.08,"dm":3.53,"T":3226},{"sep":8.91,"dm":3.53,"T":3226},{"sep":11.2,"dm":3.53,"T":3226},{"sep":14.1,"dm":3.53,"T":3226},{"sep":17.8,"dm":3.53,"T":3226},{"sep":22.4,"dm":3.53,"T":3226},{"sep":28.2,"dm":3.53,"T":3226},{"sep":35.5,"dm":3.53,"T":3226},{"sep":44.7,"dm":3.53,"T":3226},{"sep":56.2,"dm":3.53,"T":3226},{"sep":70.8,"dm":3.53,"T":3226},{"sep":89.1,"dm":3.53,"T":3226},

      {"sep":0.126,"dm":3.61,"T":3222},{"sep":0.316,"dm":3.61,"T":3222},{"sep":0.501,"dm":3.61,"T":3222},{"sep":0.631,"dm":3.61,"T":3222},{"sep":0.794,"dm":3.61,"T":3222},{"sep":1,"dm":3.61,"T":3222},{"sep":1.26,"dm":3.61,"T":3222},{"sep":1.58,"dm":3.61,"T":3222},{"sep":2,"dm":3.61,"T":3222},{"sep":3.16,"dm":3.61,"T":3222},{"sep":3.98,"dm":3.61,"T":3222},{"sep":5.01,"dm":3.61,"T":3222},{"sep":6.31,"dm":3.61,"T":3222},{"sep":10,"dm":3.61,"T":3222},{"sep":12.6,"dm":3.61,"T":3222},{"sep":20,"dm":3.61,"T":3222},{"sep":25.1,"dm":3.61,"T":3222},{"sep":39.8,"dm":3.61,"T":3222},{"sep":50.1,"dm":3.61,"T":3222},{"sep":79.4,"dm":3.61,"T":3222},{"sep":100,"dm":3.61,"T":3222}
    ]
  },
  "layer": [
    {
      "data": {"name": "curves"},
      "transform": [{"filter": "datum.band == ': 832nm'"}],
      "mark": {"type": "area", "color": "#afeeee", "opacity": 1, "clip": true},
      "encoding": {
        "x": {
          "field": "sep", "type": "quantitative",
          "scale": {"type": "log", "domain": [0.00236, 102.7], "nice": false},
          "axis": {
            "orient": "bottom",
            "values": [0.003,0.004,0.005,0.006,0.007,0.008,0.009,0.02,0.03,0.04,0.05,0.06,0.07,0.08,0.09,0.2,0.3,0.4,0.5,0.6,0.7,0.8,0.9,2,3,4,5,6,7,8,9,20,30,40,50,60,70,80,90],
            "labels": false, "domain": false, "grid": false, "title": null,
            "tickSize": 8.3, "tickWidth": 2.5, "tickColor": "black"
          }
        },
        "y": {
          "field": "dm", "type": "quantitative",
          "scale": {"domain": [-0.36, 6.62], "reverse": true, "nice": false, "zero": false},
          "axis": {
            "orient": "right", "ticks": false, "labels": false, "grid": false,
            "domain": true, "domainColor": "black", "domainWidth": 3.3, "zindex": 1,
            "title": "temperature (K)",
            "titleAngle": 270,
            "titleX": 300,
            "titleY": 554.5,
            "titleAlign": "center",
            "titleBaseline": "middle",
            "titlePadding": 0
          }
        },
        "y2": {"datum": 6.62}
      }
    },
    {
      "data": {"name": "companions"},
      "mark": {"type": "circle", "size": 841, "opacity": 1, "clip": true},
      "encoding": {
        "x": {
          "field": "sep", "type": "quantitative",
          "scale": {"type": "log", "domain": [0.00236, 102.7], "nice": false},
          "axis": {
            "orient": "bottom",
            "values": [0.01, 0.1, 1, 10, 100],
            "labelExpr": "datum.value < 0.05 ? '10⁻²' : datum.value < 0.5 ? '10⁻¹' : datum.value < 5 ? '10⁰' : datum.value < 50 ? '10¹' : '10²'",
            "labelBaseline": "alphabetic",
            "labelPadding": 43,
            "title": "separation (au)",
            "titlePadding": 20,
            "domain": true, "zindex": 1, "grid": false
          }
        },
        "y": {
          "field": "dm", "type": "quantitative",
          "scale": {"domain": [-0.36, 6.62], "reverse": true, "nice": false, "zero": false},
          "axis": {
            "orient": "left",
            "values": [0, 1, 2, 3, 4, 5, 6],
            "format": "d",
            "labelPadding": 14.6,
            "title": "Δm (mag)",
            "titlePadding": 16,
            "domain": true, "zindex": 1, "grid": false
          }
        },
        "color": {
          "field": "T", "type": "quantitative",
          "scale": {"scheme": "plasma", "domain": [3220, 3796], "nice": false},
          "legend": {
            "orient": "none",
            "legendX": 1265,
            "legendY": 0,
            "direction": "vertical",
            "gradientLength": 1109,
            "gradientThickness": 55,
            "gradientStrokeColor": "black",
            "gradientStrokeWidth": 3.3,
            "values": [3300, 3400, 3500, 3600, 3700],
            "format": "d",
            "labelOffset": 32,
            "labelOverlap": false,
            "labelLimit": 400,
            "title": null
          }
        }
      }
    },
    {
      "data": {"name": "curves"},
      "mark": {"type": "line", "color": "red", "strokeWidth": 12.5, "strokeJoin": "round", "clip": true},
      "encoding": {
        "x": {"field": "sep", "type": "quantitative", "scale": {"type": "log", "domain": [0.00236, 102.7], "nice": false}, "axis": null},
        "y": {"field": "dm", "type": "quantitative", "scale": {"domain": [-0.36, 6.62], "reverse": true, "nice": false, "zero": false}, "axis": null},
        "strokeDash": {
          "field": "band", "type": "nominal",
          "scale": {"domain": [": 562nm", ": 832nm"], "range": [[1, 0], [46, 20]]},
          "legend": {
            "orient": "none",
            "legendX": 20,
            "legendY": 953,
            "title": null,
            "symbolType": "stroke",
            "symbolSize": 6889,
            "symbolStrokeWidth": 12.5,
            "symbolStrokeColor": "red",
            "clipHeight": 41.7,
            "rowPadding": 20.8,
            "labelOffset": 36,
            "labelLimit": 500,
            "padding": 16,
            "fillColor": "#effcfc",
            "strokeColor": "#c4c4c4",
            "cornerRadius": 8
          }
        }
      }
    }
  ],
  "resolve": {"axis": {"x": "independent", "y": "independent"}},
  "config": {
    "font": "DejaVu Sans",
    "view": {"stroke": "black", "strokeWidth": 3.3},
    "axis": {
      "labelFont": "DejaVu Sans", "labelFontSize": 41.7, "labelColor": "black",
      "titleFont": "DejaVu Sans", "titleFontSize": 41.7, "titleFontWeight": "normal", "titleColor": "black",
      "tickColor": "black", "tickWidth": 3.3, "tickSize": 14.6,
      "domainColor": "black", "domainWidth": 3.3
    },
    "legend": {
      "labelFont": "DejaVu Sans", "labelFontSize": 41.7, "labelColor": "black",
      "titleFont": "DejaVu Sans", "titleFontSize": 41.7, "titleFontWeight": "normal", "titleColor": "black"
    }
  }
}
